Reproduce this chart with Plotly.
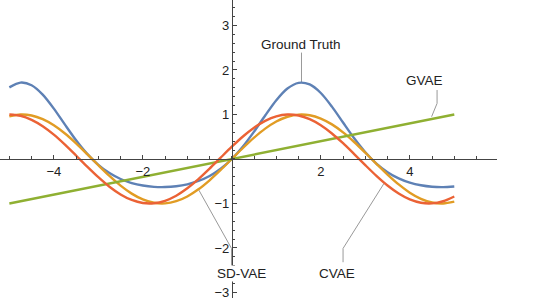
import plotly.graph_objects as go

# x samples
x_vals = [-5.0, -4.75, -4.5, -4.25, -4.0, -3.75, -3.5, -3.25, -3.0, -2.75, -2.5,
          -2.25, -2.0, -1.75, -1.5, -1.25, -1.0, -0.75, -0.5, -0.25, 0.0,
          0.25, 0.5, 0.75, 1.0, 1.25, 1.5, 1.75, 2.0, 2.25, 2.5,
          2.75, 3.0, 3.25, 3.5, 3.75, 4.0, 4.25, 4.5, 4.75, 5.0]

ground_truth = [1.609, 1.716, 1.658, 1.447, 1.132, 0.771, 0.420, 0.114, -0.132, -0.317, -0.450,
                -0.541, -0.597, -0.626, -0.631, -0.613, -0.569, -0.494, -0.381, -0.219, 0.0,
                0.281, 0.615, 0.977, 1.320, 1.583, 1.711, 1.675, 1.483, 1.177, 0.819,
                0.465, 0.152, -0.103, -0.296, -0.435, -0.531, -0.591, -0.624, -0.632, -0.617]

sd_vae = [0.959, 0.999, 0.978, 0.895, 0.757, 0.572, 0.351, 0.108, -0.141, -0.382, -0.599,
          -0.778, -0.909, -0.984, -0.998, -0.949, -0.842, -0.682, -0.479, -0.247, 0.0,
          0.247, 0.479, 0.682, 0.842, 0.949, 0.998, 0.984, 0.909, 0.778, 0.599,
          0.382, 0.141, -0.108, -0.351, -0.572, -0.757, -0.895, -0.978, -0.999, -0.959]

cvae = [1.000, 0.971, 0.881, 0.737, 0.547, 0.323, 0.078, -0.171, -0.409, -0.623, -0.796,
        -0.921, -0.989, -0.995, -0.939, -0.825, -0.659, -0.453, -0.218, 0.030, 0.276,
        0.506, 0.703, 0.857, 0.958, 0.999, 0.978, 0.896, 0.759, 0.574, 0.354,
        0.111, -0.138, -0.379, -0.596, -0.777, -0.909, -0.984, -0.998, -0.950, -0.843]

gvae_x = [-5.0, 5.0]
gvae_y = [-1.0, 1.0]

x_major = [-4, -2, 2, 4]
y_major = [-3, -2, -1, 1, 2, 3]

XR = [-5.21, 5.96]
YR = [-3.124, 3.573]

C_BLUE = "#5E81B5"
C_ORANGE = "#E19C24"
C_GREEN = "#8FB032"
C_RED = "#EB6235"
FONT = "Liberation Sans, Arial, sans-serif"

fig = go.Figure()
lw = 2.4
fig.add_trace(go.Scatter(x=x_vals, y=ground_truth, mode="lines", line=dict(color=C_BLUE, width=lw, shape="spline", smoothing=0.8), name="Ground Truth"))
fig.add_trace(go.Scatter(x=x_vals, y=sd_vae, mode="lines", line=dict(color=C_ORANGE, width=lw, shape="spline", smoothing=0.8), name="SD-VAE"))
fig.add_trace(go.Scatter(x=gvae_x, y=gvae_y, mode="lines", line=dict(color=C_GREEN, width=lw), name="GVAE"))
fig.add_trace(go.Scatter(x=x_vals, y=cvae, mode="lines", line=dict(color=C_RED, width=lw, shape="spline", smoothing=0.8), name="CVAE"))

leader = dict(color="#999999", width=1)
paths = [
    [(1.566, 2.40), (1.566, 1.73)],
    [(4.613, 1.55), (4.613, 1.25), (4.49, 0.95)],
    [(-0.007, -2.40), (-0.007, -2.01), (-0.74, -0.70)],
    [(2.50, -2.32), (2.50, -2.01), (3.42, -0.55)],
]
for p in paths:
    d = "M " + " L ".join(f"{a},{b}" for a, b in p)
    fig.add_shape(type="path", path=d, xref="x", yref="y", line=leader, layer="below")

labels = [("Ground Truth", 1.566, 2.584), ("GVAE", 4.337, 1.775),
          ("SD-VAE", 0.218, -2.584), ("CVAE", 2.366, -2.584)]
for t, ax_, ay_ in labels:
    fig.add_annotation(x=ax_, y=ay_, xref="x", yref="y", text=t, showarrow=False,
                       font=dict(family=FONT, size=13.5, color="#222222"),
                       bgcolor="white", borderpad=0)

xpos = (0 - YR[0]) / (YR[1] - YR[0])
ypos = (0 - XR[0]) / (XR[1] - XR[0])

axis_col = "#444444"
fig.update_layout(
    width=548, height=302,
    margin=dict(l=0, r=51, t=0, b=4, autoexpand=False),
    paper_bgcolor="white", plot_bgcolor="white",
    showlegend=False,
    xaxis=dict(range=XR, anchor="free", position=xpos, showgrid=False, zeroline=False,
               automargin=False,
               showline=True, linecolor=axis_col, linewidth=1,
               tickmode="array", tickvals=x_major, ticks="inside", ticklen=4, tickcolor=axis_col,
               tickfont=dict(family=FONT, size=13, color="#222222"),
               minor=dict(tickmode="linear", tick0=0, dtick=0.5, ticks="inside", ticklen=2.5, tickcolor=axis_col),
               fixedrange=True),
    yaxis=dict(range=YR, anchor="free", position=ypos, showgrid=False, zeroline=False,
               automargin=False,
               showline=True, linecolor=axis_col, linewidth=1,
               tickmode="array", tickvals=y_major, ticks="inside", ticklen=4, tickcolor=axis_col,
               tickfont=dict(family=FONT, size=13, color="#222222"),
               minor=dict(tickmode="linear", tick0=0, dtick=0.2, ticks="inside", ticklen=2.5, tickcolor=axis_col),
               fixedrange=True),
)

fig.write_html("out.html", config={"displayModeBar": False},
               post_script="document.body.style.margin='0';document.body.style.padding='0';")
